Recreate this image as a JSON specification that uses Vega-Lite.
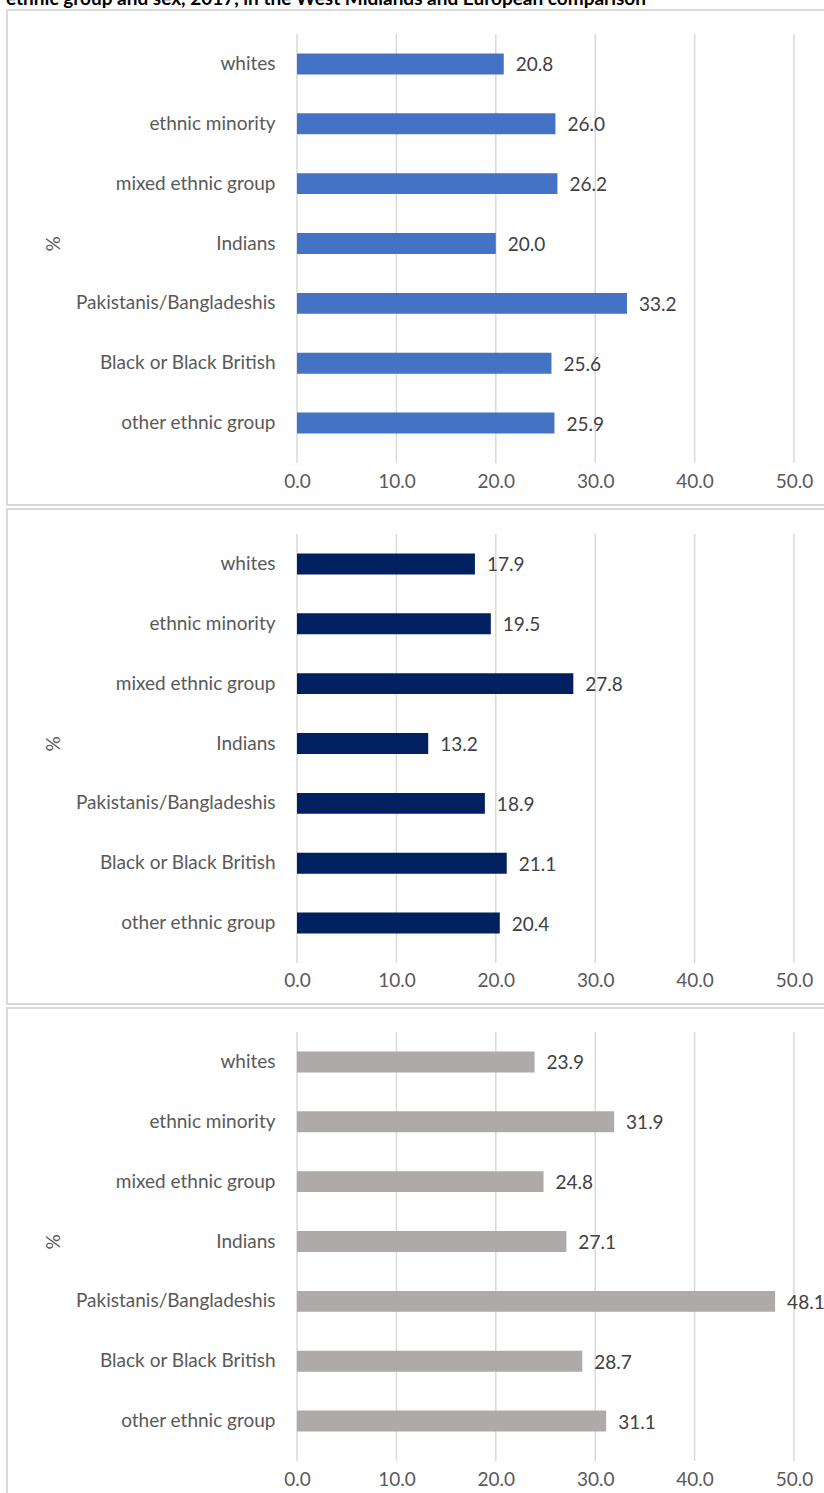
{
  "$schema": "https://vega.github.io/schema/vega-lite/v6.json",
  "padding": {"left": 6, "top": -10, "right": 0, "bottom": 0},
  "spacing": 2,
  "title": {"text": "ethnic group and sex, 2017, in the West Midlands and European comparison", "anchor": "start", "font": "Lato", "fontSize": 19, "fontWeight": "bold", "color": "#000000", "offset": 0},
  "config": {
    "font": "Lato",
    "view": {"stroke": "#d9d9d9", "strokeWidth": 2},
    "axis": {"grid": false, "labelFont": "Lato", "labelFontSize": 19, "labelColor": "#595959", "titleFont": "Lato", "titleFontSize": 19, "titleFontWeight": "normal", "titleColor": "#595959", "domain": false, "ticks": false, "tickSize": 0, "labelLimit": 400}
  },
  "datasets": {
    "ticks": [{"t": 0}, {"t": 10}, {"t": 20}, {"t": 30}, {"t": 40}, {"t": 50}],
    "p1": [
      {"group": "whites", "value": 20.8},
      {"group": "ethnic minority", "value": 26.0},
      {"group": "mixed ethnic group", "value": 26.2},
      {"group": "Indians", "value": 20.0},
      {"group": "Pakistanis/Bangladeshis", "value": 33.2},
      {"group": "Black or Black British", "value": 25.6},
      {"group": "other ethnic group", "value": 25.9}
    ],
    "p2": [
      {"group": "whites", "value": 17.9},
      {"group": "ethnic minority", "value": 19.5},
      {"group": "mixed ethnic group", "value": 27.8},
      {"group": "Indians", "value": 13.2},
      {"group": "Pakistanis/Bangladeshis", "value": 18.9},
      {"group": "Black or Black British", "value": 21.1},
      {"group": "other ethnic group", "value": 20.4}
    ],
    "p3": [
      {"group": "whites", "value": 23.9},
      {"group": "ethnic minority", "value": 31.9},
      {"group": "mixed ethnic group", "value": 24.8},
      {"group": "Indians", "value": 27.1},
      {"group": "Pakistanis/Bangladeshis", "value": 48.1},
      {"group": "Black or Black British", "value": 28.7},
      {"group": "other ethnic group", "value": 31.1}
    ]
  },
  "vconcat": [
    {
      "width": 830,
      "height": 495,
      "resolve": {"scale": {"y": "independent"}},
      "layer": [
        {"data": {"name": "ticks"}, "mark": {"type": "rule", "color": "#d9d9d9", "strokeWidth": 1.5},
         "encoding": {
           "x": {"field": "t", "type": "quantitative", "scale": {"domain": [0, 50], "range": [290, 787], "nice": false, "zero": true}, "axis": {"values": [0, 10, 20, 30, 40, 50], "format": ".1f", "orient": "bottom", "labelPadding": -33, "labelFlush": false, "title": null}},
           "y": {"datum": 0, "type": "quantitative", "scale": {"domain": [0, 1], "range": [24, 453], "nice": false, "zero": false}, "axis": null},
           "y2": {"datum": 1}
         }},
        {"data": {"name": "p1"}, "mark": {"type": "bar", "color": "#4472C4"},
         "encoding": {
           "x": {"field": "value", "type": "quantitative", "axis": {"values": [0, 10, 20, 30, 40, 50], "format": ".1f", "orient": "bottom", "labelPadding": -33, "labelFlush": false, "title": null}},
           "y": {"field": "group", "type": "nominal", "sort": null, "scale": {"range": [24, 443], "paddingInner": 0.65, "paddingOuter": 0.325}, "axis": {"orient": "left", "offset": -290, "labelPadding": 22, "title": "%", "titleX": -234}}
         }},
        {"data": {"name": "p1"}, "mark": {"type": "text", "align": "left", "baseline": "middle", "dx": 12, "dy": 1.5, "font": "Lato", "fontSize": 19, "color": "#404040"},
         "encoding": {
           "x": {"field": "value", "type": "quantitative", "axis": {"values": [0, 10, 20, 30, 40, 50], "format": ".1f", "orient": "bottom", "labelPadding": -33, "labelFlush": false, "title": null}},
           "y": {"field": "group", "type": "nominal", "sort": null, "scale": {"range": [24, 443], "paddingInner": 0.65, "paddingOuter": 0.325}, "axis": null},
           "text": {"field": "value", "type": "quantitative", "format": ".1f"}
         }}
      ]
    },
    {
      "width": 830,
      "height": 495,
      "resolve": {"scale": {"y": "independent"}},
      "layer": [
        {"data": {"name": "ticks"}, "mark": {"type": "rule", "color": "#d9d9d9", "strokeWidth": 1.5},
         "encoding": {
           "x": {"field": "t", "type": "quantitative", "scale": {"domain": [0, 50], "range": [290, 787], "nice": false, "zero": true}, "axis": {"values": [0, 10, 20, 30, 40, 50], "format": ".1f", "orient": "bottom", "labelPadding": -33, "labelFlush": false, "title": null}},
           "y": {"datum": 0, "type": "quantitative", "scale": {"domain": [0, 1], "range": [25, 454], "nice": false, "zero": false}, "axis": null},
           "y2": {"datum": 1}
         }},
        {"data": {"name": "p2"}, "mark": {"type": "bar", "color": "#002060"},
         "encoding": {
           "x": {"field": "value", "type": "quantitative", "axis": {"values": [0, 10, 20, 30, 40, 50], "format": ".1f", "orient": "bottom", "labelPadding": -33, "labelFlush": false, "title": null}},
           "y": {"field": "group", "type": "nominal", "sort": null, "scale": {"range": [25, 444], "paddingInner": 0.65, "paddingOuter": 0.325}, "axis": {"orient": "left", "offset": -290, "labelPadding": 22, "title": "%", "titleX": -234}}
         }},
        {"data": {"name": "p2"}, "mark": {"type": "text", "align": "left", "baseline": "middle", "dx": 12, "dy": 1.5, "font": "Lato", "fontSize": 19, "color": "#404040"},
         "encoding": {
           "x": {"field": "value", "type": "quantitative", "axis": {"values": [0, 10, 20, 30, 40, 50], "format": ".1f", "orient": "bottom", "labelPadding": -33, "labelFlush": false, "title": null}},
           "y": {"field": "group", "type": "nominal", "sort": null, "scale": {"range": [25, 444], "paddingInner": 0.65, "paddingOuter": 0.325}, "axis": null},
           "text": {"field": "value", "type": "quantitative", "format": ".1f"}
         }}
      ]
    },
    {
      "width": 830,
      "height": 495,
      "resolve": {"scale": {"y": "independent"}},
      "layer": [
        {"data": {"name": "ticks"}, "mark": {"type": "rule", "color": "#d9d9d9", "strokeWidth": 1.5},
         "encoding": {
           "x": {"field": "t", "type": "quantitative", "scale": {"domain": [0, 50], "range": [290, 787], "nice": false, "zero": true}, "axis": {"values": [0, 10, 20, 30, 40, 50], "format": ".1f", "orient": "bottom", "labelPadding": -33, "labelFlush": false, "title": null}},
           "y": {"datum": 0, "type": "quantitative", "scale": {"domain": [0, 1], "range": [24, 453], "nice": false, "zero": false}, "axis": null},
           "y2": {"datum": 1}
         }},
        {"data": {"name": "p3"}, "mark": {"type": "bar", "color": "#AEAAAA"},
         "encoding": {
           "x": {"field": "value", "type": "quantitative", "axis": {"values": [0, 10, 20, 30, 40, 50], "format": ".1f", "orient": "bottom", "labelPadding": -33, "labelFlush": false, "title": null}},
           "y": {"field": "group", "type": "nominal", "sort": null, "scale": {"range": [24, 443], "paddingInner": 0.65, "paddingOuter": 0.325}, "axis": {"orient": "left", "offset": -290, "labelPadding": 22, "title": "%", "titleX": -234}}
         }},
        {"data": {"name": "p3"}, "mark": {"type": "text", "align": "left", "baseline": "middle", "dx": 12, "dy": 1.5, "font": "Lato", "fontSize": 19, "color": "#404040"},
         "encoding": {
           "x": {"field": "value", "type": "quantitative", "axis": {"values": [0, 10, 20, 30, 40, 50], "format": ".1f", "orient": "bottom", "labelPadding": -33, "labelFlush": false, "title": null}},
           "y": {"field": "group", "type": "nominal", "sort": null, "scale": {"range": [24, 443], "paddingInner": 0.65, "paddingOuter": 0.325}, "axis": null},
           "text": {"field": "value", "type": "quantitative", "format": ".1f"}
         }}
      ]
    }
  ]
}
